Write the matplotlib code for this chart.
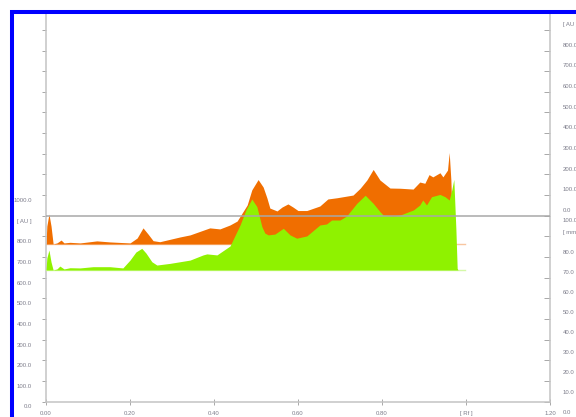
import matplotlib.pyplot as plt
from matplotlib.patches import Rectangle
from matplotlib.transforms import blended_transform_factory, ScaledTranslation

plt.rcParams['font.family'] = ['Liberation Sans', 'DejaVu Sans']

# track 1 (orange) - Rf / signal in AU above its own baseline
rf_orange = [0.000, 0.002, 0.007, 0.012, 0.017, 0.026, 0.036, 0.043, 0.057, 0.081,
             0.121, 0.152, 0.200, 0.217, 0.231, 0.243, 0.255, 0.271, 0.319, 0.343,
             0.390, 0.414, 0.438, 0.455, 0.479, 0.490, 0.505, 0.517, 0.526, 0.533,
             0.550, 0.562, 0.576, 0.588, 0.600, 0.621, 0.652, 0.671, 0.693, 0.731,
             0.748, 0.764, 0.779, 0.795, 0.819, 0.843, 0.874, 0.890, 0.902, 0.912,
             0.921, 0.938, 0.945, 0.956, 0.960, 0.964, 0.969]
au_orange = [0, 87, 145, 87, 0, 5, 19, 5, 8, 5,
             15, 10, 5, 29, 78, 48, 16, 11, 34, 44,
             78, 73, 92, 111, 189, 262, 312, 276, 223, 174,
             160, 179, 194, 179, 162, 162, 184, 218, 224, 237,
             270, 310, 361, 310, 271, 270, 266, 300, 294, 336,
             325, 345, 325, 358, 443, 310, 0]

# track 2 (green)
rf_green = [0.000, 0.002, 0.007, 0.012, 0.017, 0.026, 0.033, 0.043, 0.057, 0.081,
            0.112, 0.152, 0.183, 0.200, 0.214, 0.228, 0.238, 0.252, 0.264, 0.295,
            0.319, 0.343, 0.374, 0.383, 0.407, 0.438, 0.462, 0.476, 0.490, 0.502,
            0.514, 0.521, 0.529, 0.545, 0.565, 0.581, 0.597, 0.621, 0.652, 0.668,
            0.680, 0.700, 0.716, 0.740, 0.760, 0.779, 0.795, 0.803, 0.827, 0.843,
            0.875, 0.890, 0.897, 0.906, 0.918, 0.938, 0.950, 0.960, 0.966, 0.971,
            0.976, 0.979, 0.981]
au_green = [0, 58, 97, 39, 0, 5, 19, 5, 11, 10,
            16, 16, 10, 48, 87, 105, 82, 40, 24, 32,
            40, 48, 73, 78, 73, 116, 218, 291, 344, 307,
            210, 179, 170, 174, 202, 170, 154, 165, 218, 223,
            242, 242, 262, 323, 362, 323, 283, 266, 262, 266,
            291, 315, 339, 315, 355, 366, 355, 339, 387, 439,
            194, 8, 0]

base_orange = 763
base_green = 637
sep_level = 900

x_ticks = [0.0, 0.2, 0.4, 0.6, 0.8, 1.0, 1.2]
x_labels = ['0.00', '0.20', '0.40', '0.60', '0.80', '[ Rf ]', '1.20']

left_vals = [0, 100, 200, 300, 400, 500, 600, 700, 800, 900, 1000]
left_labels = ['0.0', '100.0', '200.0', '300.0', '400.0', '500.0', '600.0',
               '700.0', '800.0', '[ AU ]', '1000.0']

right_top_vals = [0, 100, 200, 300, 400, 500, 600, 700, 800, 900]
right_top_labels = ['0.0', '100.0', '200.0', '300.0', '400.0', '500.0', '600.0',
                    '700.0', '800.0', '[ AU ]']
right_bot_labels = ['0.0', '10.0', '20.0', '30.0', '40.0', '50.0', '60.0',
                    '70.0', '80.0', '[ mm ]', '100.0']
right_bot_pos = [-55, 42, 139, 236, 333, 430, 527, 624, 721, 818, 879]

txt_col = '#7c7c8a'
axis_col = '#c4c4c4'

fig = plt.figure(figsize=(5.76, 4.17), dpi=100)
ax = fig.add_axes([46 / 576, 15.5 / 417, 504 / 576, 387.5 / 417])
ax.set_xlim(0, 1.2)
ax.set_ylim(0, 1877)

# baselines (pale) and filled tracks
ax.plot([0, 0.998], [base_orange, base_orange], color='#f8c6a0', lw=1.0, zorder=1)
ax.fill_between(rf_orange, base_orange, [base_orange + v for v in au_orange],
                color='#f06e00', lw=0, zorder=2)
ax.plot([0, 0.998], [base_green, base_green], color='#d4f8a8', lw=1.0, zorder=3)
ax.fill_between(rf_green, base_green, [base_green + v for v in au_green],
                color='#8ff200', lw=0, zorder=4)

ax.axhline(sep_level, color='#a8a8a8', lw=1.1, zorder=5)

for s in ['left', 'bottom', 'right']:
    ax.spines[s].set_color(axis_col)
    ax.spines[s].set_linewidth(1.1)
ax.spines['top'].set_visible(False)

yt = list(range(0, 1900, 100))
ax.set_yticks(yt)
ax.tick_params(axis='y', which='both', left=True, right=True, labelleft=False,
               labelright=False, direction='out', length=3, width=0.6, color='#9a9a9a')
for t in ax.yaxis.get_major_ticks():
    t.tick2line.set_marker(0)  # right ticks point inwards
    t.tick2line.set_markersize(4)

ax.set_xticks(x_ticks)
ax.set_xticklabels(x_labels)
ax.tick_params(axis='x', direction='inout', length=4, width=0.6, color='#9a9a9a',
               labelsize=4.3, labelcolor=txt_col, pad=5)

# left labels (sit a little below their ticks)
tr = blended_transform_factory(ax.transAxes, ax.transData)
down = ScaledTranslation(0, -5.5 / 100, fig.dpi_scale_trans)
up = ScaledTranslation(0, 5.2 / 100, fig.dpi_scale_trans)
for v, lab in zip(left_vals, left_labels):
    ax.text(-14 / 504, v, lab, transform=tr + down, ha='right', va='center',
            fontsize=4.3, color=txt_col, clip_on=False)

# right labels: upper track in AU, lower in mm
for v, lab in zip(right_top_vals, right_top_labels):
    ax.text(517 / 504, sep_level + v, lab, transform=tr + up, ha='left', va='center',
            fontsize=4.3, color=txt_col, clip_on=False)
for v, lab in zip(right_bot_pos, right_bot_labels):
    ax.text(517 / 504, v, lab, transform=tr, ha='left', va='center',
            fontsize=4.3, color=txt_col, clip_on=False)

# blue frame
fig.patches.append(Rectangle((12 / 576, -0.2), 1.2, 1.2 - 12 / 417,
                             transform=fig.transFigure, fill=False,
                             ec='#0000ff', lw=2.9))

fig.savefig('out.png', dpi=100)
